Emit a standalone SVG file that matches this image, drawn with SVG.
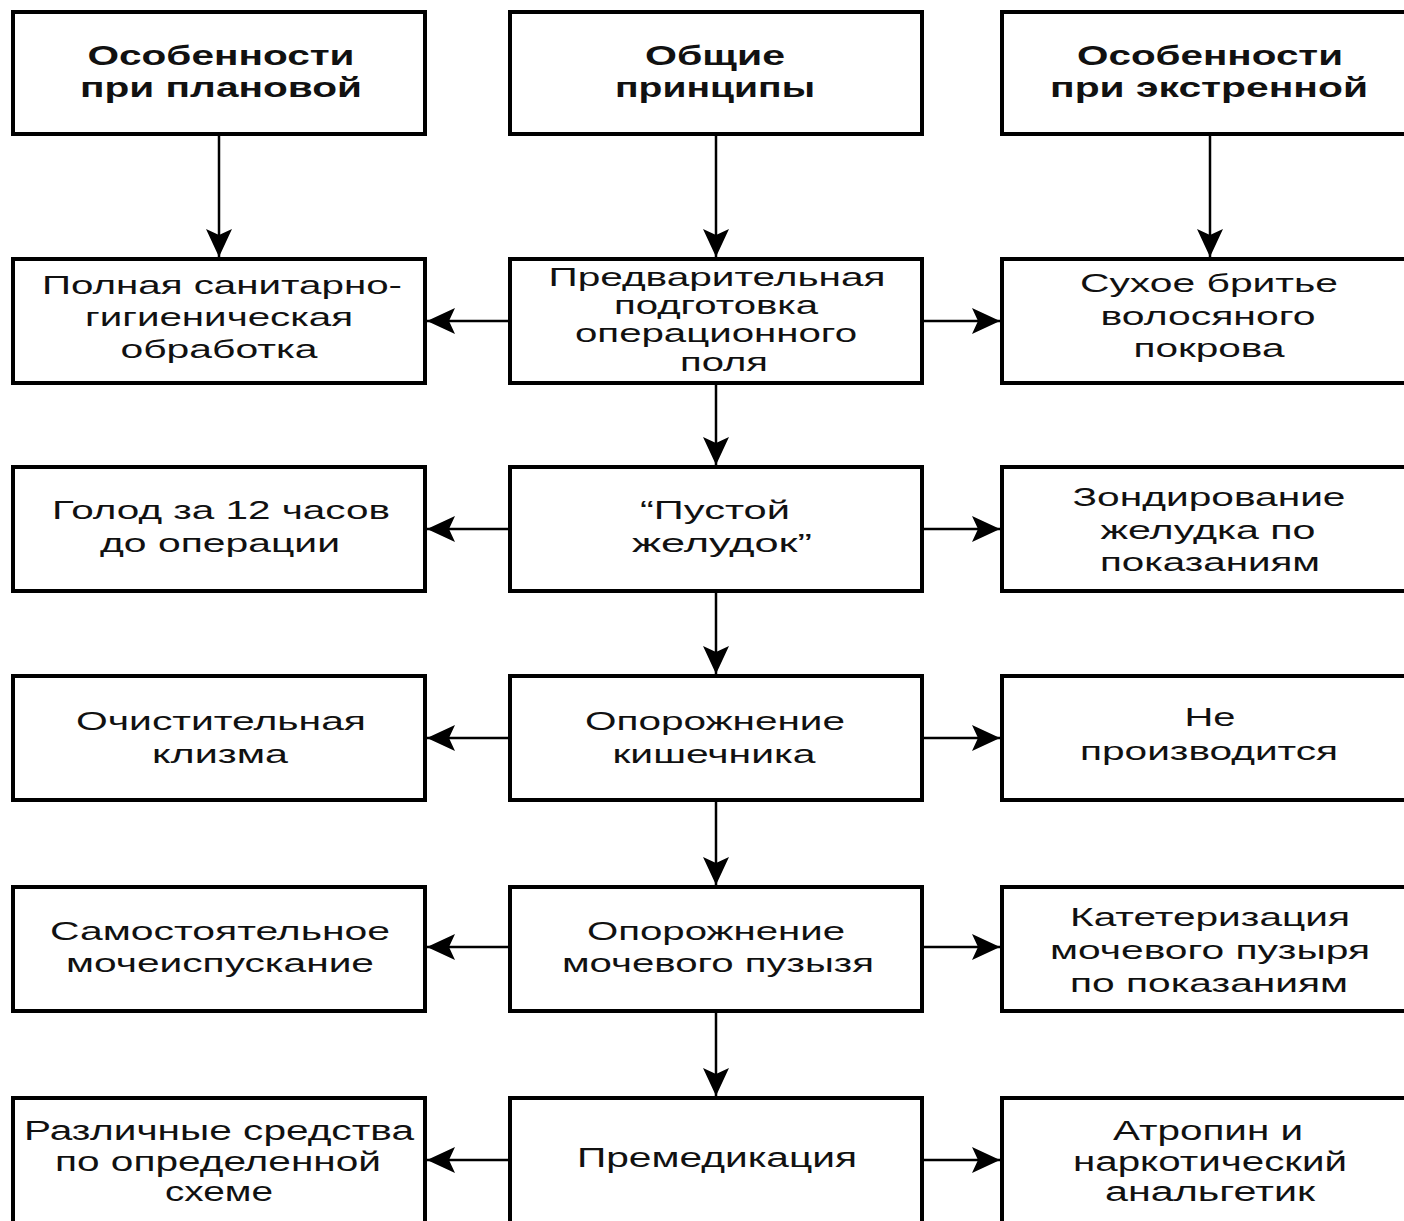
<svg xmlns="http://www.w3.org/2000/svg" width="1404" height="1221" viewBox="0 0 1404 1221">
<style>
.box{fill:#fff;stroke:#000;stroke-width:4}
.c{stroke:#000;stroke-width:2.5;fill:none;marker-end:url(#ah)}
text{font-family:"Liberation Sans",Arial,sans-serif;fill:#111;text-anchor:middle}
.b{font-size:28px;font-weight:bold}
.t{font-size:26px}
.t5{font-size:27px}
</style>
<defs>
<marker id="ah" viewBox="0 0 28 26" refX="28" refY="13" markerWidth="28" markerHeight="26" orient="auto" markerUnits="userSpaceOnUse">
<path d="M0,0 L28,13 L0,26 L6,13 Z" fill="#000"/>
</marker>
</defs>
<rect width="1404" height="1221" fill="#fff"/>
<g id="connectors">
<path class="c" d="M219,136 V257"/>
<path class="c" d="M716,136 V257"/>
<path class="c" d="M1210,136 V257"/>
<path class="c" d="M716,385 V465"/>
<path class="c" d="M716,593 V674"/>
<path class="c" d="M716,802 V885"/>
<path class="c" d="M716,1013 V1096"/>
<path class="c" d="M508,321 H427"/>
<path class="c" d="M924,321 H1000"/>
<path class="c" d="M508,529 H427"/>
<path class="c" d="M924,529 H1000"/>
<path class="c" d="M508,738 H427"/>
<path class="c" d="M924,738 H1000"/>
<path class="c" d="M508,947 H427"/>
<path class="c" d="M924,947 H1000"/>
<path class="c" d="M508,1160 H427"/>
<path class="c" d="M924,1160 H1000"/>
</g>
<g id="n-plan">
<rect class="box" x="13" y="12" width="412" height="122"/>
<text class="b" x="221" y="65" textLength="267" lengthAdjust="spacingAndGlyphs">Особенности</text>
<text class="b" x="221" y="97" textLength="282" lengthAdjust="spacingAndGlyphs">при плановой</text>
</g>
<g id="n-general">
<rect class="box" x="510" y="12" width="412" height="122"/>
<text class="b" x="715" y="65" textLength="140" lengthAdjust="spacingAndGlyphs">Общие</text>
<text class="b" x="715" y="97" textLength="200" lengthAdjust="spacingAndGlyphs">принципы</text>
</g>
<g id="n-emerg">
<rect class="box" x="1002" y="12" width="410" height="122"/>
<text class="b" x="1210" y="65" textLength="266" lengthAdjust="spacingAndGlyphs">Особенности</text>
<text class="b" x="1209" y="97" textLength="318" lengthAdjust="spacingAndGlyphs">при экстренной</text>
</g>
<g id="n-r1-left">
<rect class="box" x="13" y="259" width="412" height="124"/>
<text class="t" x="222" y="294" textLength="360" lengthAdjust="spacingAndGlyphs">Полная санитарно-</text>
<text class="t" x="219" y="326" textLength="268" lengthAdjust="spacingAndGlyphs">гигиеническая</text>
<text class="t" x="219" y="358" textLength="197" lengthAdjust="spacingAndGlyphs">обработка</text>
</g>
<g id="n-r1-mid">
<rect class="box" x="510" y="259" width="412" height="124"/>
<text class="t" x="717" y="286" textLength="337" lengthAdjust="spacingAndGlyphs">Предварительная</text>
<text class="t" x="716" y="314" textLength="204" lengthAdjust="spacingAndGlyphs">подготовка</text>
<text class="t" x="716" y="342" textLength="282" lengthAdjust="spacingAndGlyphs">операционного</text>
<text class="t" x="724" y="371" textLength="88" lengthAdjust="spacingAndGlyphs">поля</text>
</g>
<g id="n-r1-right">
<rect class="box" x="1002" y="259" width="410" height="124"/>
<text class="t" x="1209" y="292" textLength="258" lengthAdjust="spacingAndGlyphs">Сухое бритье</text>
<text class="t" x="1208" y="325" textLength="215" lengthAdjust="spacingAndGlyphs">волосяного</text>
<text class="t" x="1209" y="357" textLength="151" lengthAdjust="spacingAndGlyphs">покрова</text>
</g>
<g id="n-r2-left">
<rect class="box" x="13" y="467" width="412" height="124"/>
<text class="t" x="221" y="519" textLength="338" lengthAdjust="spacingAndGlyphs">Голод за 12 часов</text>
<text class="t" x="220" y="552" textLength="240" lengthAdjust="spacingAndGlyphs">до операции</text>
</g>
<g id="n-r2-mid">
<rect class="box" x="510" y="467" width="412" height="124"/>
<text class="t" x="715" y="519" textLength="150" lengthAdjust="spacingAndGlyphs">“Пустой</text>
<text class="t" x="722" y="552" textLength="180" lengthAdjust="spacingAndGlyphs">желудок”</text>
</g>
<g id="n-r2-right">
<rect class="box" x="1002" y="467" width="410" height="124"/>
<text class="t" x="1209" y="506" textLength="273" lengthAdjust="spacingAndGlyphs">Зондирование</text>
<text class="t" x="1208" y="539" textLength="215" lengthAdjust="spacingAndGlyphs">желудка по</text>
<text class="t" x="1210" y="571" textLength="220" lengthAdjust="spacingAndGlyphs">показаниям</text>
</g>
<g id="n-r3-left">
<rect class="box" x="13" y="676" width="412" height="124"/>
<text class="t" x="221" y="730" textLength="290" lengthAdjust="spacingAndGlyphs">Очистительная</text>
<text class="t" x="220" y="763" textLength="136" lengthAdjust="spacingAndGlyphs">клизма</text>
</g>
<g id="n-r3-mid">
<rect class="box" x="510" y="676" width="412" height="124"/>
<text class="t" x="715" y="730" textLength="260" lengthAdjust="spacingAndGlyphs">Опорожнение</text>
<text class="t" x="714" y="763" textLength="203" lengthAdjust="spacingAndGlyphs">кишечника</text>
</g>
<g id="n-r3-right">
<rect class="box" x="1002" y="676" width="410" height="124"/>
<text class="t" x="1210" y="726" textLength="51" lengthAdjust="spacingAndGlyphs">Не</text>
<text class="t" x="1209" y="760" textLength="258" lengthAdjust="spacingAndGlyphs">производится</text>
</g>
<g id="n-r4-left">
<rect class="box" x="13" y="887" width="412" height="124"/>
<text class="t" x="220" y="940" textLength="340" lengthAdjust="spacingAndGlyphs">Самостоятельное</text>
<text class="t" x="220" y="972" textLength="308" lengthAdjust="spacingAndGlyphs">мочеиспускание</text>
</g>
<g id="n-r4-mid">
<rect class="box" x="510" y="887" width="412" height="124"/>
<text class="t" x="716" y="940" textLength="258" lengthAdjust="spacingAndGlyphs">Опорожнение</text>
<text class="t" x="718" y="972" textLength="312" lengthAdjust="spacingAndGlyphs">мочевого пузызя</text>
</g>
<g id="n-r4-right">
<rect class="box" x="1002" y="887" width="410" height="124"/>
<text class="t" x="1210" y="926" textLength="280" lengthAdjust="spacingAndGlyphs">Катетеризация</text>
<text class="t" x="1210" y="959" textLength="320" lengthAdjust="spacingAndGlyphs">мочевого пузыря</text>
<text class="t" x="1209" y="992" textLength="278" lengthAdjust="spacingAndGlyphs">по показаниям</text>
</g>
<g id="n-r5-left">
<rect class="box" x="13" y="1098" width="412" height="126"/>
<text class="t5" x="219" y="1140" textLength="390" lengthAdjust="spacingAndGlyphs">Различные средства</text>
<text class="t5" x="218" y="1171" textLength="326" lengthAdjust="spacingAndGlyphs">по определенной</text>
<text class="t5" x="219" y="1201" textLength="108" lengthAdjust="spacingAndGlyphs">схеме</text>
</g>
<g id="n-r5-mid">
<rect class="box" x="510" y="1098" width="412" height="126"/>
<text class="t5" x="717" y="1167" textLength="280" lengthAdjust="spacingAndGlyphs">Премедикация</text>
</g>
<g id="n-r5-right">
<rect class="box" x="1002" y="1098" width="410" height="126"/>
<text class="t5" x="1208" y="1140" textLength="190" lengthAdjust="spacingAndGlyphs">Атропин и</text>
<text class="t5" x="1210" y="1171" textLength="274" lengthAdjust="spacingAndGlyphs">наркотический</text>
<text class="t5" x="1210" y="1201" textLength="210" lengthAdjust="spacingAndGlyphs">анальгетик</text>
</g>
</svg>
